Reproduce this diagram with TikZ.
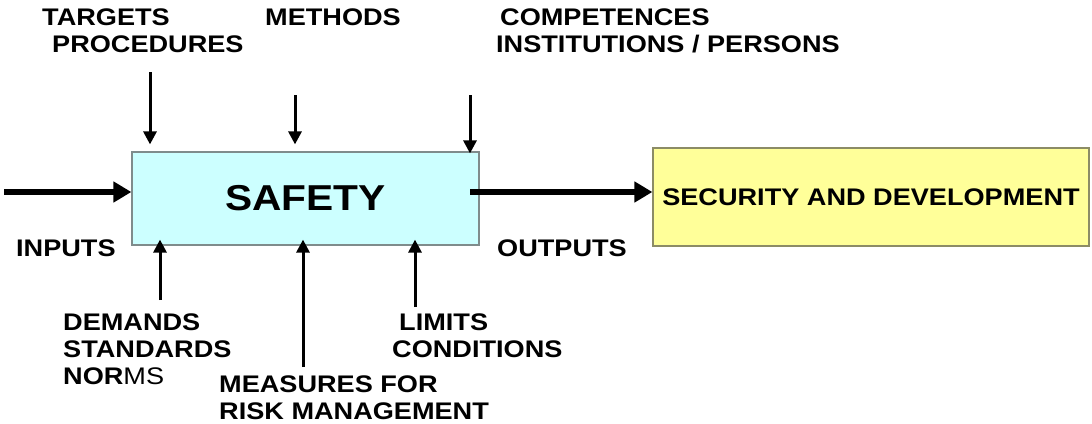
\documentclass[tikz,border=0pt]{standalone}
\usepackage{fontspec}
\setmainfont{Liberation Sans}[FakeStretch=1.13]
\usetikzlibrary{arrows.meta}
\usepackage{xcolor}
\definecolor{safetyfill}{HTML}{CCFFFF}
\definecolor{securityfill}{HTML}{FFFF99}
\definecolor{safetyline}{HTML}{7F8C8C}
\definecolor{securityline}{HTML}{8C8C66}
\newcommand{\myfonttags}{\fontsize{24}{27}\selectfont\bfseries}
\newcommand{\myfontblock}{\fontsize{36}{40}\selectfont\bfseries}

\begin{document}
\begin{tikzpicture}[x=1pt,y=-1pt,
	tagtext/.style={anchor=north west, inner sep=0pt, align=left, font=\myfonttags},
	thinarrow/.style={line width=3pt, -{Triangle[length=13pt,width=13pt]}},
	thickarrow/.style={line width=5.5pt, -{Triangle[length=18pt,width=20pt]}},
	blockbox/.style={inner sep=0pt, line width=1.2pt}]
				%Page frame
				\useasboundingbox (0,0) rectangle (1092,423);
				%The two blocks
				\node [blockbox, draw=safetyline, fill=safetyfill, minimum width=347pt, minimum height=93pt, font=\myfontblock] (safety) at (305.5,198.5) {SAFETY};
				\node [blockbox, draw=securityline, fill=securityfill, minimum width=436pt, minimum height=98pt, font=\myfonttags] (security) at (871,197) {SECURITY AND DEVELOPMENT};
				%Input and output
				\coordinate (inStart) at (4,192);
				\coordinate (outStart) at (470,192);
				\draw [thickarrow] (inStart) -- (inStart -| safety.west);
				\draw [thickarrow] (outStart) -- (outStart -| security.west);
				%Arrows from above
				\coordinate (targetsTop) at (150,72);
				\coordinate (methodsTop) at (295,95);
				\coordinate (competencesTop) at (470,95);
				\draw [thinarrow, shorten >=7pt] (targetsTop) -- (targetsTop |- safety.north);
				\draw [thinarrow, shorten >=7pt] (methodsTop) -- (methodsTop |- safety.north);
				\draw [thinarrow, shorten >=-2pt] (competencesTop) -- (competencesTop |- safety.north);
				%Arrows from below
				\coordinate (demandsBottom) at (160,300);
				\coordinate (measuresBottom) at (303,367);
				\coordinate (limitsBottom) at (415,307);
				\draw [thinarrow, shorten >=-6pt] (demandsBottom) -- (demandsBottom |- safety.south);
				\draw [thinarrow, shorten >=-6pt] (measuresBottom) -- (measuresBottom |- safety.south);
				\draw [thinarrow, shorten >=-6pt] (limitsBottom) -- (limitsBottom |- safety.south);
				%The labels
				\node [tagtext] (targets) at (42,8.5) {TARGETS\\\hspace*{10pt}PROCEDURES};
				\node [tagtext] (methods) at (265,8.5) {METHODS};
				\node [tagtext] (competences) at (496,8.5) {\hspace*{4pt}COMPETENCES\\INSTITUTIONS / PERSONS};
				\node [tagtext] (inputs) at (16,239.5) {INPUTS};
				\node [tagtext] (outputs) at (497,239.5) {OUTPUTS};
				\node [tagtext] (demands) at (63,313.5) {DEMANDS\\STANDARDS\\NOR{\mdseries MS}};
				\node [tagtext] (limits) at (392,313.5) {\hspace*{7pt}LIMITS\\CONDITIONS};
				\node [tagtext] (measures) at (219,375.5) {MEASURES FOR\\RISK MANAGEMENT};
				\end{tikzpicture}
\end{document}
